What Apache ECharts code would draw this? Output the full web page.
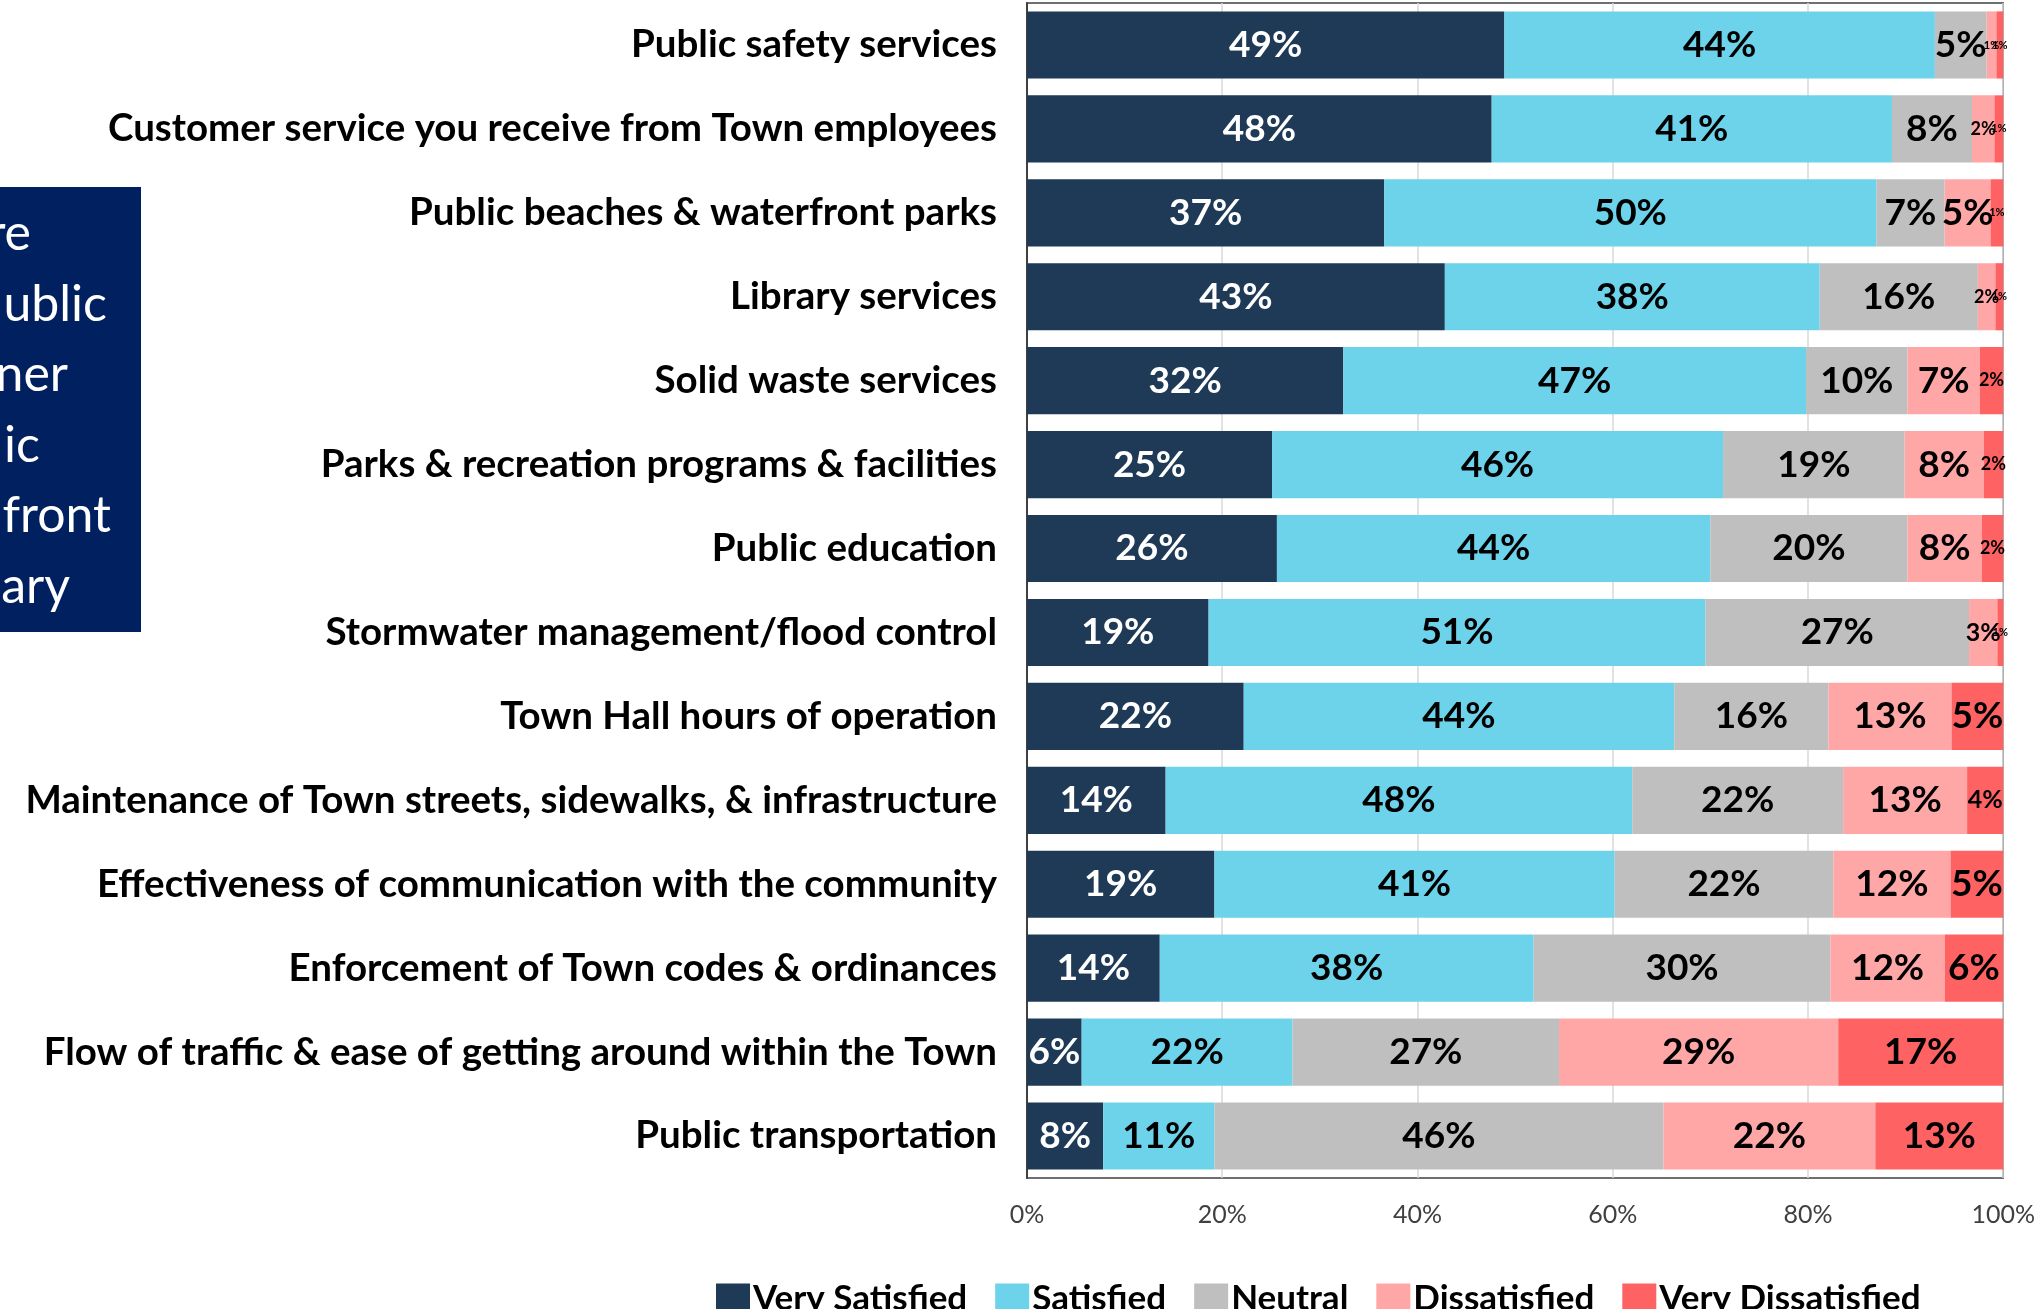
<!DOCTYPE html>
<html>
<head>
<meta charset="utf-8">
<script src="https://cdn.jsdelivr.net/npm/echarts@6/dist/echarts.min.js"></script>
<style>
  html, body { margin: 0; padding: 0; background: #fff; }
  #chart { width: 2038px; height: 1309px; }
</style>
</head>
<body>
<div id="chart"></div>
<script>
var categories = [
  'Public safety services',
  'Customer service you receive from Town employees',
  'Public beaches & waterfront parks',
  'Library services',
  'Solid waste services',
  'Parks & recreation programs & facilities',
  'Public education',
  'Stormwater management/flood control',
  'Town Hall hours of operation',
  'Maintenance of Town streets, sidewalks, & infrastructure',
  'Effectiveness of communication with the community',
  'Enforcement of Town codes & ordinances',
  'Flow of traffic & ease of getting around within the Town',
  'Public transportation'
];
var verySatisfied    = [48.9, 47.6, 36.6, 42.8, 32.4, 25.1, 25.6, 18.6, 22.2, 14.2, 19.2, 13.6, 5.6, 7.8];
var satisfied        = [44.1, 41.0, 50.4, 38.4, 47.4, 46.2, 44.4, 50.9, 44.1, 47.8, 41.0, 38.3, 21.6, 11.4];
var neutral          = [5.3, 8.2, 7.0, 16.2, 10.4, 18.6, 20.2, 27.0, 15.8, 21.6, 22.4, 30.4, 27.3, 46.0];
var dissatisfied     = [1.0, 2.3, 4.7, 1.8, 7.4, 8.1, 7.6, 2.9, 12.6, 12.7, 12.0, 11.7, 28.6, 21.7];
var veryDissatisfied = [0.7, 0.9, 1.3, 0.8, 2.4, 2.0, 2.2, 0.6, 5.3, 3.7, 5.4, 6.0, 16.9, 13.1];
var seriesNames = ['Very Satisfied', 'Satisfied', 'Neutral', 'Dissatisfied', 'Very Dissatisfied'];
var xTicks = [0, 20, 40, 60, 80, 100];

// clipped callout box text on the left
var boxLines = ['re', 'ublic', 'ner', 'ic', 'front', 'ary'];
var boxLineEnds = [31, 107, 68, 40, 111, 70];

var colors = ['#1F3A56', '#6CD3EA', '#BFBFBF', '#FFA7A7', '#FF6262'];
var FONT = 'Lato';

function labelSize(v) {
  if (v < 1.5) return 11;
  if (v < 2.6) return 18;
  if (v < 4) return 25;
  return 37;
}

function buildSeries(name, values, idx) {
  return {
    name: name,
    type: 'bar',
    stack: 'total',
    barCategoryGap: '20%',
    itemStyle: { color: colors[idx] },
    label: {
      show: true,
      position: 'inside',
      fontFamily: FONT,
      fontWeight: 'bold',
      color: idx === 0 ? '#fff' : '#000',
      formatter: function (p) { return Math.round(p.value) + '%'; }
    },
    data: values.map(function (v) {
      return { value: v, label: { fontSize: labelSize(v) } };
    })
  };
}

var chart = echarts.init(document.getElementById('chart'));

var graphics = [{
  type: 'rect',
  shape: { x: 0, y: 187, width: 141, height: 445 },
  style: { fill: '#002060' }
}];
boxLines.forEach(function (t, i) {
  graphics.push({
    type: 'text',
    x: boxLineEnds[i],
    y: 234 + i * 70.5,
    style: {
      text: t,
      fill: '#fff',
      font: '50px ' + FONT,
      textAlign: 'right',
      textVerticalAlign: 'middle'
    }
  });
});

option = {
  animation: false,
  grid: {
    left: 1027,
    right: 32,
    top: 3,
    bottom: 131,
    show: true,
    borderColor: '#404040',
    borderWidth: 1.5
  },
  legend: {
    data: seriesNames,
    left: 711,
    top: 1276,
    icon: 'rect',
    itemWidth: 34,
    itemHeight: 30,
    itemGap: 28,
    textStyle: { fontFamily: FONT, fontSize: 35, fontWeight: 'bold', color: '#000', padding: [0, 0, 0, -2] }
  },
  xAxis: {
    type: 'value',
    min: xTicks[0],
    max: xTicks[xTicks.length - 1],
    interval: 20,
    axisLine: { show: false },
    axisTick: { show: false },
    splitLine: { show: true, lineStyle: { color: '#D9D9D9', width: 1.5 } },
    axisLabel: {
      formatter: '{value}%',
      fontFamily: FONT,
      fontSize: 25,
      color: '#404040',
      margin: 24
    }
  },
  yAxis: {
    type: 'category',
    inverse: true,
    data: categories,
    axisLine: { show: true, lineStyle: { color: '#404040', width: 2 } },
    axisTick: { show: false },
    axisLabel: {
      fontFamily: FONT,
      fontSize: 38.5,
      fontWeight: 'bold',
      color: '#000',
      margin: 30
    }
  },
  graphic: graphics,
  series: [
    buildSeries(seriesNames[0], verySatisfied, 0),
    buildSeries(seriesNames[1], satisfied, 1),
    buildSeries(seriesNames[2], neutral, 2),
    buildSeries(seriesNames[3], dissatisfied, 3),
    buildSeries(seriesNames[4], veryDissatisfied, 4)
  ]
};

chart.setOption(option);
</script>
</body>
</html>
